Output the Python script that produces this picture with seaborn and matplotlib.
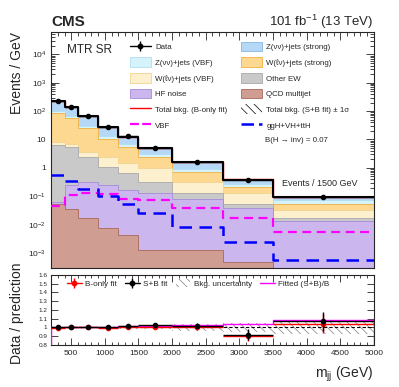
import numpy as np
import pandas as pd
import matplotlib
matplotlib.use("Agg")
import matplotlib.pyplot as plt
import seaborn as sns
from matplotlib.lines import Line2D
from matplotlib.patches import Patch
from matplotlib.ticker import LogLocator, FuncFormatter, MultipleLocator, NullFormatter

# ---------------- data ----------------
mjj_edges = [200, 400, 600, 900, 1200, 1500, 2000, 2750, 3500, 5000]

# background components, Events / GeV (stack order bottom -> top)
qcd_multijet = [0.055, 0.035, 0.0166, 0.0078, 0.0043, 0.0013, 0.0013, 0.0005, 0.0002]
hf_noise     = [0.010, 0.21, 0.303, 0.242, 0.156, 0.125, 0.082, 0.0375, 0.0138]
other_ew     = [6.5, 5.25, 2.08, 0.82, 0.49, 0.19, 0.047, 0.014, 0.0028]
w_vbf        = [1.9, 1.3, 1.2, 1.33, 0.85, 0.68, 0.19, 0.074, 0.0154]
w_strong     = [76.5, 49.2, 21.4, 8.1, 3.9, 1.4, 0.39, 0.084, 0.023]
z_vbf        = [15.0, 12.0, 5.0, 2.5, 1.4, 0.6, 0.22, 0.07, 0.017]
z_strong     = [134.0, 72.0, 36.0, 15.0, 5.7, 2.2, 0.62, 0.11, 0.025]

data_values  = [235, 142, 66, 28.6, 13.0, 5.2, 1.56, 0.38, 0.097]
data_errors  = [1.0, 0.7, 0.4, 0.25, 0.16, 0.08, 0.04, 0.02, 0.008]

signal_vbf   = [0.045, 0.11, 0.135, 0.125, 0.083, 0.072, 0.040, 0.0166, 0.0055]
signal_ggh   = [0.55, 0.36, 0.186, 0.10, 0.052, 0.025, 0.0083, 0.0024, 0.00056]
bonly_scale  = [1.0, 1.0, 1.0, 1.0, 1.0, 1.0, 1.0, 1.005, 1.005]

# ratio panel
ratio_sb      = [1.0, 1.005, 1.01, 1.0, 1.02, 1.025, 1.02, 0.92, 1.07]
ratio_sb_err  = [0.01, 0.01, 0.012, 0.015, 0.02, 0.025, 0.03, 0.06, 0.11]
ratio_b       = [0.998, 1.0, 1.005, 0.995, 1.01, 1.01, 1.005, 0.905, 1.045]
ratio_b_err   = [0.01, 0.01, 0.012, 0.015, 0.02, 0.025, 0.03, 0.06, 0.11]
bkg_unc       = [0.005, 0.006, 0.007, 0.009, 0.012, 0.018, 0.035, 0.05, 0.07]
fitted_sb_b   = [1.002, 1.004, 1.007, 1.01, 1.015, 1.02, 1.03, 1.045, 1.08]

proc_labels = ["QCD multijet", "HF noise", "Other EW", "W(ℓν)+jets (VBF)",
               "W(ℓν)+jets (strong)", "Z(νν)+jets (VBF)", "Z(νν)+jets (strong)"]
proc_face = ["#cf9d92", "#cbb6ee", "#c9c9c9", "#fdf0cf", "#fdd891", "#d6f3fb", "#b5d8f7"]
proc_edge = ["#a8685a", "#a58bd8", "#a9a9a9", "#f2d490", "#f0b040", "#b0e0f0", "#86b6e2"]

# ---------------- style ----------------
sns.set_theme(style="ticks")
plt.rcParams["font.family"] = ["Liberation Sans", "DejaVu Sans"]
plt.rcParams["mathtext.fontset"] = "custom"
plt.rcParams["mathtext.rm"] = "Liberation Sans"
plt.rcParams["mathtext.it"] = "Liberation Sans:italic"
plt.rcParams["mathtext.default"] = "regular"
plt.rcParams["hatch.linewidth"] = 0.5
plt.rcParams["axes.linewidth"] = 0.8

edges = np.array(mjj_edges, dtype=float)
centers = 0.5 * (edges[1:] + edges[:-1])
halfw = 0.5 * (edges[1:] - edges[:-1])

comps = [qcd_multijet, hf_noise, other_ew, w_vbf, w_strong, z_vbf, z_strong]
cum = np.cumsum(np.array(comps), axis=0)
total = cum[-1]

fig = plt.figure(figsize=(3.99, 3.87), dpi=100)
ax = fig.add_axes([0.128, 0.3075, 0.809, 0.6095])
rax = fig.add_axes([0.128, 0.1085, 0.809, 0.181])

# stacked backgrounds (draw from top of stack down)
for i in range(len(comps) - 1, -1, -1):
    df = pd.DataFrame({"mjj": centers, "w": cum[i]})
    sns.histplot(data=df, x="mjj", weights="w", bins=list(mjj_edges), element="step",
                 fill=True, color=proc_face[i], alpha=1, edgecolor=proc_edge[i],
                 linewidth=0.6, ax=ax)

# S+B uncertainty band
unc = np.array(bkg_unc)
lo = np.append(total * (1 - unc), total[-1] * (1 - unc[-1]))
hi = np.append(total * (1 + unc), total[-1] * (1 + unc[-1]))
ax.fill_between(edges, lo, hi, step="post", facecolor="none", edgecolor="black",
                hatch="\\\\\\\\", linewidth=0, zorder=3)

# B-only total (red) and total (black)
df_b = pd.DataFrame({"mjj": centers, "w": total * np.array(bonly_scale)})
sns.histplot(data=df_b, x="mjj", weights="w", bins=list(mjj_edges), element="step", fill=False,
             color="red", linewidth=1.0, ax=ax, zorder=4)
df_t = pd.DataFrame({"mjj": centers, "w": total})
sns.histplot(data=df_t, x="mjj", weights="w", bins=list(mjj_edges), element="step", fill=False,
             color="black", linewidth=1.5, ax=ax, zorder=5)

# signals
df_v = pd.DataFrame({"mjj": centers, "w": signal_vbf})
sns.histplot(data=df_v, x="mjj", weights="w", bins=list(mjj_edges), element="step", fill=False,
             color="#ff00ff", linewidth=1.6, linestyle=(0, (4, 2.5)), ax=ax, zorder=6)
df_g = pd.DataFrame({"mjj": centers, "w": signal_ggh})
sns.histplot(data=df_g, x="mjj", weights="w", bins=list(mjj_edges), element="step", fill=False,
             color="#0000ff", linewidth=1.8, linestyle=(0, (5, 3)), ax=ax, zorder=6)

# data
ax.errorbar(centers, data_values, yerr=data_errors, xerr=halfw, fmt="o",
            color="black", ms=3, lw=1.0, capsize=0, zorder=7)

ax.set_yscale("log")
ax.set_xlim(200, 5000)
ax.set_ylim(3e-4, 6e4)
ax.set_xlabel("")
ax.set_ylabel("Events / GeV", fontsize=10, loc="top")
ax.yaxis.set_label_coords(-0.084, 1.0)

def logfmt(v, pos):
    e = int(round(np.log10(v)))
    if e == 0:
        return "1"
    if e == 1:
        return "10"
    return r"10$^{%d}$" % e

ax.yaxis.set_major_locator(LogLocator(base=10, numticks=20))
ax.yaxis.set_minor_locator(LogLocator(base=10, subs=np.arange(2, 10), numticks=20))
ax.yaxis.set_major_formatter(FuncFormatter(logfmt))
ax.yaxis.set_minor_formatter(NullFormatter())
ax.xaxis.set_major_locator(MultipleLocator(500))
ax.xaxis.set_minor_locator(MultipleLocator(100))
ax.tick_params(which="both", direction="in", top=True, right=True, labelbottom=False,
               labelsize=6, width=0.6)
ax.tick_params(which="major", length=6)
ax.tick_params(which="minor", length=3)

# texts
fig.text(0.13, 0.932, "CMS", fontweight="bold", fontsize=11, ha="left", va="baseline")
fig.text(0.935, 0.932, r"101 fb$^{-1}$ (13 TeV)", fontsize=9.5, ha="right", va="baseline")
fig.text(0.168, 0.863, "MTR SR", fontsize=8.5, ha="left", va="baseline")
fig.text(0.664, 0.633, "B(H → inv) = 0.07", fontsize=5.7, ha="left", va="baseline")
fig.text(0.706, 0.519, "Events / 1500 GeV", fontsize=6.5, ha="left", va="baseline")

# legend handles
def ph(i):
    return Patch(facecolor=proc_face[i], edgecolor=proc_edge[i], linewidth=0.6)

def point_handle(color):
    return (Line2D([], [], color=color, lw=1.0),
            Line2D([], [], color=color, marker="|", ms=7, mew=1.0, linestyle="none"),
            Line2D([], [], color=color, marker="o", ms=3.2, linestyle="none"))

h1 = [point_handle("black"), ph(5), ph(3), ph(1),
      Line2D([], [], color="red", lw=1.0),
      Line2D([], [], color="#ff00ff", lw=1.6, linestyle=(0, (4, 1.5)))]
l1 = ["Data", proc_labels[5], proc_labels[3], proc_labels[1],
      "Total bkg. (B-only fit)", "VBF"]
h2 = [ph(6), ph(4), ph(2), ph(0),
      Patch(facecolor="none", edgecolor="black", hatch="\\\\\\\\", linewidth=0),
      Line2D([], [], color="#0000ff", lw=1.8, linestyle=(0, (5, 2)))]
l2 = [proc_labels[6], proc_labels[4], proc_labels[2], proc_labels[0],
      "Total bkg. (S+B fit) ± 1σ", "ggH+VH+ttH"]

kw = dict(frameon=False, fontsize=5.7, loc="upper left", borderpad=0, borderaxespad=0,
          handlelength=2.6, handleheight=1.5, handletextpad=0.6, labelspacing=0.76)
leg1 = fig.legend(h1, l1, bbox_to_anchor=(0.326, 0.892), **kw)
leg2 = fig.legend(h2, l2, bbox_to_anchor=(0.604, 0.892), **kw)

# ---------------- ratio panel ----------------
runc = np.array(bkg_unc)
rax.fill_between(edges, np.append(1 - runc, 1 - runc[-1]), np.append(1 + runc, 1 + runc[-1]),
                 step="post", facecolor="none", edgecolor="gray", hatch="\\\\\\\\",
                 linewidth=0, zorder=1)
rax.axhline(1.0, color="black", lw=0.8, linestyle=(0, (3, 2)), zorder=2)
rax.stairs(fitted_sb_b, edges, color="#ff00ff", lw=1.0, zorder=3)
rax.errorbar(centers, ratio_b, yerr=ratio_b_err, xerr=halfw, fmt="o", color="red",
             ms=3, lw=1.0, capsize=0, zorder=4)
rax.errorbar(centers, ratio_sb, yerr=ratio_sb_err, xerr=halfw, fmt="o", color="black",
             ms=3, lw=1.0, capsize=0, zorder=5)

rax.set_xlim(200, 5000)
rax.set_ylim(0.8, 1.6)
rax.yaxis.set_major_locator(MultipleLocator(0.1))
rax.yaxis.set_major_formatter(FuncFormatter(lambda v, p: "%g" % round(v, 1)))
rax.xaxis.set_major_locator(MultipleLocator(500))
rax.xaxis.set_minor_locator(MultipleLocator(100))
rax.xaxis.set_major_formatter(FuncFormatter(lambda v, p: "%d" % v if v >= 500 else ""))
rax.tick_params(which="both", direction="in", top=True, right=True, labelsize=6, width=0.6)
rax.tick_params(axis="y", labelsize=4.6, pad=2.5)
rax.tick_params(which="major", length=5)
rax.tick_params(which="minor", length=2.5)
rax.set_ylabel("Data / prediction", fontsize=10)
rax.yaxis.set_label_coords(-0.085, 0.45)
rax.set_xlabel(r"m$_{jj}$ (GeV)", fontsize=10, loc="right")
rax.xaxis.set_label_coords(1.0, -0.28)

rh = [point_handle("red"), point_handle("black"),
      Patch(facecolor="none", edgecolor="gray", hatch="\\\\\\\\", linewidth=0),
      Line2D([], [], color="#ff00ff", lw=1.0)]
rl = ["B-only fit", "S+B fit", "Bkg. uncertainty", "Fitted (S+B)/B"]
fig.legend(rh, rl, frameon=False, fontsize=5.9, loc="upper left", ncol=4,
           bbox_to_anchor=(0.168, 0.279), borderpad=0, borderaxespad=0,
           handlelength=1.8, handleheight=1.2, handletextpad=0.4, columnspacing=1.0)

fig.savefig("out.png", dpi=100)
